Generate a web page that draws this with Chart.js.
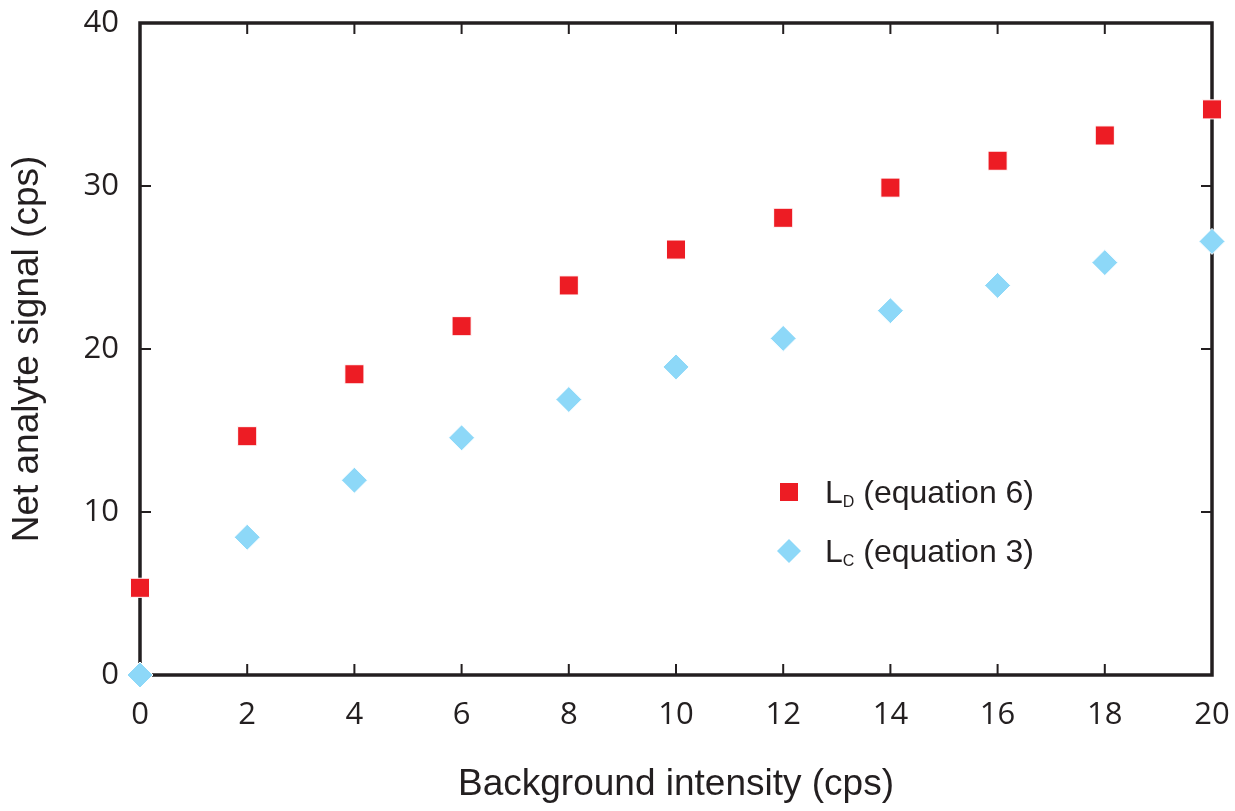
<!DOCTYPE html>
<html>
<head>
<meta charset="utf-8">
<script src="https://cdn.jsdelivr.net/npm/chart.js@4.4.1/dist/chart.umd.min.js"></script>
<style>
  html, body { margin: 0; padding: 0; background: #fff; }
  #wrap { width: 1235px; height: 811px; }
</style>
</head>
<body>
<div id="wrap"><canvas id="chart" width="1235" height="811"></canvas></div>
<script>
// background intensity (cps)
const xValues = [0, 2, 4, 6, 8, 10, 12, 14, 16, 18, 20];
// LD (equation 6)
const ldValues = [5.35, 14.65, 18.45, 21.4, 23.9, 26.1, 28.05, 29.9, 31.55, 33.1, 34.7];
// LC (equation 3)
const lcValues = [0, 8.45, 11.95, 14.55, 16.9, 18.9, 20.65, 22.35, 23.9, 25.3, 26.6];
const xTicks = [0, 2, 4, 6, 8, 10, 12, 14, 16, 18, 20];
const yTicks = [0, 10, 20, 30, 40];

const TICK_FONT = "'Open Sans', sans-serif";
const TEXT_FONT = "Arial, 'Liberation Sans', sans-serif";
const INK = "#231f20";
const RED = "#ed1c24";
const BLUE = "#8dd8f8";

function toPoints(ys) {
  return xValues.map((x, i) => ({ x: x, y: ys[i] }));
}

// frame and inward ticks on all four sides
const framePlugin = {
  id: "frame",
  beforeDatasetsDraw(chart) {
    const ctx = chart.ctx;
    const a = chart.chartArea;
    const xs = chart.scales.x, ys = chart.scales.y;
    ctx.save();
    ctx.strokeStyle = INK;
    ctx.lineWidth = 2;
    ctx.beginPath();
    xTicks.forEach(v => {
      const px = xs.getPixelForValue(v);
      ctx.moveTo(px, a.bottom); ctx.lineTo(px, a.bottom - 11);
      ctx.moveTo(px, a.top); ctx.lineTo(px, a.top + 11);
    });
    yTicks.forEach(v => {
      const py = ys.getPixelForValue(v);
      ctx.moveTo(a.left, py); ctx.lineTo(a.left + 11, py);
      ctx.moveTo(a.right, py); ctx.lineTo(a.right - 11, py);
    });
    ctx.stroke();
    ctx.lineWidth = 3.5;
    ctx.strokeRect(a.left, a.top, a.right - a.left, a.bottom - a.top);
    ctx.restore();
  }
};

// legend with subscripts
const legendPlugin = {
  id: "subLegend",
  afterDatasetsDraw(chart) {
    const ctx = chart.ctx;
    const items = [
      { main: "L", sub: "D", rest: " (equation 6)", ds: 0, y: 492 },
      { main: "L", sub: "C", rest: " (equation 3)", ds: 1, y: 551 }
    ];
    ctx.save();
    items.forEach(it => {
      const d = chart.data.datasets[it.ds];
      ctx.fillStyle = d.backgroundColor;
      ctx.beginPath();
      if (d.pointStyle === "rectRot") {
        const r = 12;
        ctx.moveTo(789, it.y - r); ctx.lineTo(789 + r, it.y);
        ctx.lineTo(789, it.y + r); ctx.lineTo(789 - r, it.y);
        ctx.closePath();
      } else {
        ctx.rect(780, it.y - 9, 18, 18);
      }
      ctx.fill();
      ctx.fillStyle = INK;
      ctx.textBaseline = "alphabetic";
      ctx.textAlign = "left";
      ctx.font = "32px " + TEXT_FONT;
      let x = 825;
      const base = it.y + 11;
      ctx.fillText(it.main, x, base);
      x += ctx.measureText(it.main).width;
      ctx.font = "16px " + TEXT_FONT;
      ctx.fillText(it.sub, x, base + 4);
      x += ctx.measureText(it.sub).width;
      ctx.font = "32px " + TEXT_FONT;
      ctx.fillText(it.rest, x, base);
    });
    ctx.restore();
  }
};

new Chart(document.getElementById("chart"), {
  type: "scatter",
  data: {
    datasets: [
      {
        label: "LD (equation 6)",
        data: toPoints(ldValues),
        pointStyle: "rect",
        backgroundColor: RED,
        borderColor: "#fff",
        borderWidth: 1,
        pointRadius: 13.5,
        pointHoverRadius: 13.5,
        clip: false
      },
      {
        label: "LC (equation 3)",
        data: toPoints(lcValues),
        pointStyle: "rectRot",
        backgroundColor: BLUE,
        borderColor: "#fff",
        borderWidth: 1,
        pointRadius: 13,
        pointHoverRadius: 13,
        clip: false
      }
    ]
  },
  options: {
    responsive: false,
    animation: false,
    layout: { padding: { top: 23, right: 23, left: 0, bottom: 0 } },
    plugins: {
      legend: { display: false },
      tooltip: { enabled: false }
    },
    scales: {
      x: {
        type: "linear",
        min: 0, max: 20,
        afterBuildTicks: s => { s.ticks = xTicks.map(v => ({ value: v })); },
        grid: { display: false, drawTicks: false },
        border: { display: false },
        ticks: { color: INK, font: { family: TICK_FONT, size: 31 }, padding: 22, autoSkip: false, maxRotation: 0 },
        title: {
          display: true,
          text: "Background intensity (cps)",
          color: INK,
          font: { family: TEXT_FONT, size: 37 },
          padding: { top: 10, bottom: 4 }
        },
        afterFit: s => { s.height = 136; s.paddingLeft = 0; s.paddingRight = 0; }
      },
      y: {
        type: "linear",
        min: 0, max: 40,
        afterBuildTicks: s => { s.ticks = yTicks.map(v => ({ value: v })); },
        grid: { display: false, drawTicks: false },
        border: { display: false },
        ticks: { color: INK, font: { family: TICK_FONT, size: 31 }, padding: 21 },
        title: {
          display: true,
          text: "Net analyte signal (cps)",
          color: INK,
          font: { family: TEXT_FONT, size: 37 },
          padding: { top: 6, bottom: 0 }
        },
        afterFit: s => { s.width = 140; s.paddingTop = 0; s.paddingBottom = 0; }
      }
    }
  },
  plugins: [framePlugin, legendPlugin]
});
</script>
</body>
</html>
